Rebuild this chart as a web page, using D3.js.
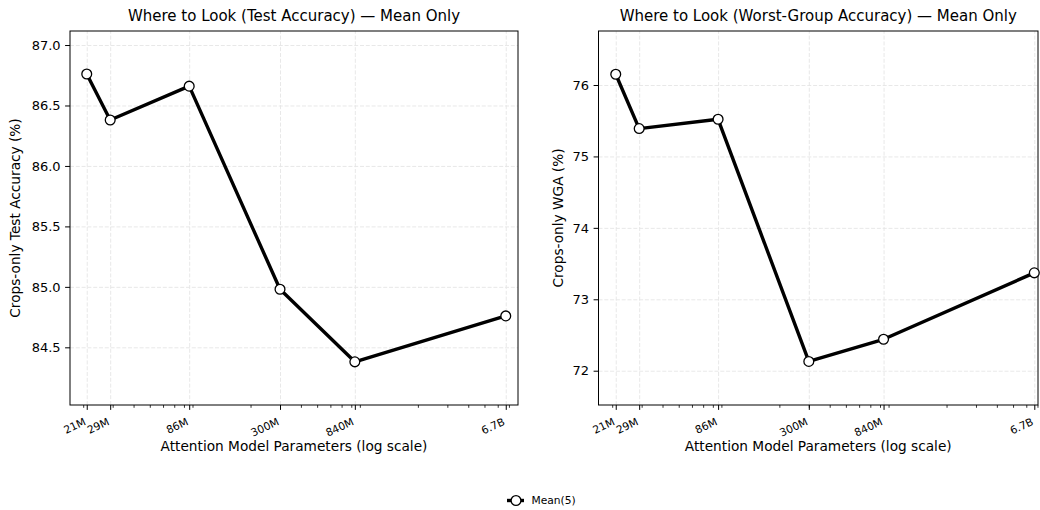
<!DOCTYPE html>
<html>
<head>
<meta charset="utf-8">
<script src="https://cdn.jsdelivr.net/npm/d3@7"></script>
<style>
  body { margin: 0; background: #fff; }
  svg text { font-family: "DejaVu Sans", sans-serif; fill: #000; }
</style>
</head>
<body>
<svg id="chart" width="1040" height="510"></svg>
<script>
// Model sizes (attention model parameter counts) and their tick labels
const params = [21e6, 29e6, 86e6, 300e6, 840e6, 6.7e9];
const paramLabels = ["21M", "29M", "86M", "300M", "840M", "6.7B"];

// Crops-only results, mean over 5 runs
const testAccuracy = [86.76, 86.38, 86.66, 84.98, 84.38, 84.76];
const worstGroupAccuracy = [76.15, 75.39, 75.52, 72.13, 72.44, 73.37];

// Y tick values for each panel
const testTicks = [84.5, 85.0, 85.5, 86.0, 86.5, 87.0];
const wgaTicks = [72, 73, 74, 75, 76];

const seriesName = "Mean(5)";

const svg = d3.select("#chart");
const plotTop = 31, plotBottom = 405;
const majorLen = 4.9, minorLen = 2.8;

const panels = [
  {
    title: "Where to Look (Test Accuracy) — Mean Only",
    ylabel: "Crops-only Test Accuracy (%)",
    values: testAccuracy, ticks: testTicks, fmt: d3.format(".1f"),
    left: 70, right: 518,
    xDomain: [1.668e7, 7.93e9], yDomain: [84.023, 87.116],
    ylabelX: 20
  },
  {
    title: "Where to Look (Worst-Group Accuracy) — Mean Only",
    ylabel: "Crops-only WGA (%)",
    values: worstGroupAccuracy, ticks: wgaTicks, fmt: d3.format("d"),
    left: 598.5, right: 1038,
    xDomain: [1.656e7, 7.05e9], yDomain: [71.52, 76.756],
    ylabelX: 563
  }
];

panels.forEach(p => {
  const x = d3.scaleLog().domain(p.xDomain).range([p.left, p.right]);
  const y = d3.scaleLinear().domain(p.yDomain).range([plotBottom, plotTop]);
  const g = svg.append("g");

  // log-scale minor ticks (2..9 x 10^k) inside the visible range
  const minor = [];
  for (let k = 6; k <= 10; k++) {
    for (let m = 2; m <= 9; m++) {
      const v = m * Math.pow(10, k);
      if (v >= p.xDomain[0] && v <= p.xDomain[1]) minor.push(v);
    }
  }

  // dashed grid
  const grid = g.append("g").attr("class", "grid");
  grid.append("g")
    .attr("transform", `translate(0,${plotBottom})`)
    .call(d3.axisBottom(x).tickValues(params).tickFormat("").tickSize(-(plotBottom - plotTop)))
    .call(s => s.select(".domain").remove());
  grid.append("g")
    .attr("transform", `translate(${p.left},0)`)
    .call(d3.axisLeft(y).tickValues(p.ticks).tickFormat("").tickSize(-(p.right - p.left)))
    .call(s => s.select(".domain").remove());
  grid.selectAll("line")
    .attr("stroke", "#e5e5e5")
    .attr("stroke-width", 0.9)
    .attr("stroke-dasharray", "4,1.8");

  // x axis: minor ticks
  g.append("g")
    .attr("transform", `translate(0,${plotBottom})`)
    .call(d3.axisBottom(x).tickValues(minor).tickFormat("").tickSize(minorLen))
    .call(s => s.select(".domain").remove())
    .selectAll("line").attr("stroke", "#000").attr("stroke-width", 0.8);

  // x axis: major ticks with rotated labels
  const xa = g.append("g")
    .attr("transform", `translate(0,${plotBottom})`)
    .call(d3.axisBottom(x).tickValues(params)
      .tickFormat((d, i) => paramLabels[i]).tickSize(majorLen))
    .call(s => s.select(".domain").remove());
  xa.selectAll("line").attr("stroke", "#000").attr("stroke-width", 1);
  xa.selectAll("text")
    .attr("y", null).attr("dy", "0.75em")
    .attr("text-anchor", "end")
    .attr("transform", "translate(-4,12) rotate(-25)")
    .style("font-size", "10.7px")
    .style("font-family", "'DejaVu Sans', sans-serif");

  // y axis
  const ya = g.append("g")
    .attr("transform", `translate(${p.left},0)`)
    .call(d3.axisLeft(y).tickValues(p.ticks).tickFormat(p.fmt)
      .tickSize(majorLen).tickPadding(4.5))
    .call(s => s.select(".domain").remove());
  ya.selectAll("line").attr("stroke", "#000").attr("stroke-width", 1);
  ya.selectAll("text")
    .style("font-size", "13px")
    .style("font-family", "'DejaVu Sans', sans-serif");

  // frame
  g.append("rect")
    .attr("x", p.left).attr("y", plotTop)
    .attr("width", p.right - p.left).attr("height", plotBottom - plotTop)
    .attr("fill", "none").attr("stroke", "#000").attr("stroke-width", 1);

  // series line and markers
  const pts = params.map((v, i) => [v, p.values[i]]);
  g.append("path")
    .datum(pts)
    .attr("fill", "none")
    .attr("stroke", "#000")
    .attr("stroke-width", 3.4)
    .attr("stroke-linejoin", "round")
    .attr("d", d3.line().x(d => x(d[0])).y(d => y(d[1])));
  g.selectAll("circle.pt")
    .data(pts).enter().append("circle")
    .attr("class", "pt")
    .attr("cx", d => x(d[0])).attr("cy", d => y(d[1]))
    .attr("r", 4.9)
    .attr("fill", "#fff").attr("stroke", "#000").attr("stroke-width", 1.3);

  // titles and axis labels
  const cx = (p.left + p.right) / 2;
  g.append("text")
    .attr("x", cx).attr("y", 21)
    .attr("text-anchor", "middle")
    .style("font-size", "15px")
    .text(p.title);
  g.append("text")
    .attr("x", cx).attr("y", 451)
    .attr("text-anchor", "middle")
    .style("font-size", "13.7px")
    .text("Attention Model Parameters (log scale)");
  g.append("text")
    .attr("transform", `translate(${p.ylabelX},${(plotTop + plotBottom) / 2}) rotate(-90)`)
    .attr("text-anchor", "middle")
    .style("font-size", "13.7px")
    .text(p.ylabel);
});

// shared legend
const lg = svg.append("g").attr("transform", "translate(516,500.5)");
lg.append("line")
  .attr("x1", -9).attr("x2", 8).attr("y1", 0).attr("y2", 0)
  .attr("stroke", "#000").attr("stroke-width", 3.4);
lg.append("circle")
  .attr("r", 4.9).attr("fill", "#fff")
  .attr("stroke", "#000").attr("stroke-width", 1.3);
lg.append("text")
  .attr("x", 15.5).attr("y", 0).attr("dy", "0.36em")
  .style("font-size", "10.7px")
  .text(seriesName);
</script>
</body>
</html>
